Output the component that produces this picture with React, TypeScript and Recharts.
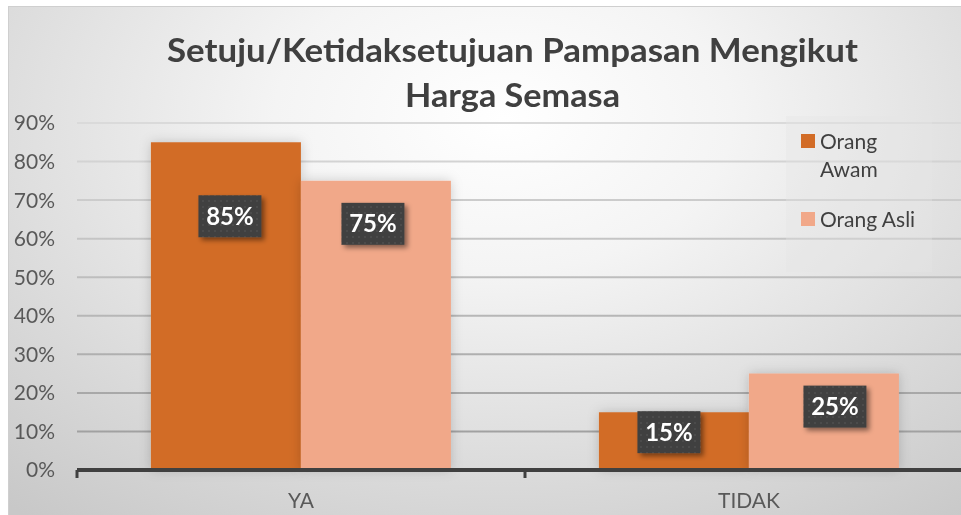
import React from 'react';
import { BarChart, Bar, XAxis, YAxis, CartesianGrid, Legend, LabelList, Rectangle } from 'recharts';

// ---- data ----
const categories = ['YA', 'TIDAK'];
const orangAwam = [0.85, 0.15];
const orangAsli = [0.75, 0.25];
const seriesNames = ['Orang Awam', 'Orang Asli'];
const yTicks = [0, 0.1, 0.2, 0.3, 0.4, 0.5, 0.6, 0.7, 0.8, 0.9];
const titleLines = ['Setuju/Ketidaksetujuan Pampasan Mengikut', 'Harga Semasa'];

const data = categories.map((c, i) => ({ name: c, awam: orangAwam[i], asli: orangAsli[i] }));

// ---- style / layout ----
const FONT = 'Lato, "Open Sans", sans-serif';
const COLORS = ['#D26C27', '#F1A889'];
const CHART_W = 975;
const CHART_H = 509;
const MARGIN = { top: 117, right: 10, bottom: 0, left: 0 };
const Y_AXIS_W = 69;
const X_AXIS_H = 45;
const PLOT_W = CHART_W - MARGIN.left - MARGIN.right - Y_AXIS_W;
const BAND = PLOT_W / categories.length;
// manual data-label placement (pixels, relative to bar centre / bar top)
const AWAM_LABEL_OFFSETS = [{ dx: 4, dy: 74 }, { dx: -5, dy: 20 }];
const ASLI_LABEL_OFFSETS = [{ dx: -3, dy: 43 }, { dx: 11, dy: 33 }];

const pct = (v: number) => `${Math.round(v * 100)}%`;

const makeLabel = (offsets: { dx: number; dy: number }[]) => (props: any) => {
  const { x, y, width, value, index } = props;
  const o = offsets[index] || { dx: 0, dy: 30 };
  const cx = Number(x) + Number(width) / 2 + o.dx;
  const cy = Number(y) + o.dy;
  return (
    <g>
      <rect x={cx - 31.5} y={cy - 21} width={63} height={42} fill="url(#dotPattern)" filter="url(#labelShadow)" />
      <text
        x={cx}
        y={cy}
        dy="0.36em"
        textAnchor="middle"
        fill="#ffffff"
        fontFamily={FONT}
        fontWeight={700}
        fontSize={24}
      >
        {pct(Number(value))}
      </text>
    </g>
  );
};

const XTick = (props: any) => {
  const { x, y, payload } = props;
  const bx = x - BAND / 2;
  return (
    <g>
      <line x1={bx} x2={bx} y1={y} y2={y + 8} stroke="#404040" strokeWidth={3} />
      <text x={x} y={y + 38} textAnchor="middle" fill="#595959" fontFamily={FONT} fontSize={21}>
        {payload.value}
      </text>
    </g>
  );
};

const LegendContent = (props: any) => {
  const payload = [...(props.payload || [])].sort(
    (a: any, b: any) => seriesNames.indexOf(a.value) - seriesNames.indexOf(b.value)
  );
  return (
    <div
      style={{
        position: 'relative',
        width: 146,
        height: 156,
        background: 'rgba(228,228,228,0.35)',
        fontFamily: FONT,
        fontSize: 21,
        color: '#404040',
      }}
    >
      {payload.map((entry: any, i: number) => (
        <div
          key={i}
          style={{ position: 'absolute', left: 15, top: i === 0 ? 11 : 89, display: 'flex', alignItems: 'flex-start' }}
        >
          <div style={{ width: 14, height: 14, marginTop: 7, marginRight: 5, background: entry.color, flex: 'none' }} />
          <div style={{ width: 102, lineHeight: '28px' }}>{entry.value}</div>
        </div>
      ))}
    </div>
  );
};

export default function App() {
  return (
    <div
      style={{
        position: 'fixed',
        left: 8,
        top: 6,
        width: 953,
        height: 509,
        overflow: 'hidden',
        background:
          'radial-gradient(ellipse 80% 100% at 52% 22%, #ffffff 0%, #f4f4f4 30%, #dcdcdc 68%, #c8c8c8 100%)',
        boxShadow: 'inset 1px 1px 0 #cfcfcf',
      }}
    >
      <svg width={953} height={130} style={{ position: 'absolute', left: 0, top: 0 }}>
        <text
          x={504.5}
          y={56}
          textAnchor="middle"
          fill="#404040"
          fontFamily={FONT}
          fontWeight={700}
          fontSize={32}
          textLength={691}
          lengthAdjust="spacingAndGlyphs"
        >
          {titleLines[0]}
        </text>
        <text
          x={504.5}
          y={101}
          textAnchor="middle"
          fill="#404040"
          fontFamily={FONT}
          fontWeight={700}
          fontSize={32}
          textLength={215}
          lengthAdjust="spacingAndGlyphs"
        >
          {titleLines[1]}
        </text>
      </svg>
      <div style={{ position: 'absolute', left: 0, top: 0 }}>
        <BarChart
          width={CHART_W}
          height={CHART_H}
          data={data}
          margin={MARGIN}
          barCategoryGap="16.5%"
          barGap={0}
        >
          <defs>
            <linearGradient id="gridGrad" gradientUnits="userSpaceOnUse" x1="0" y1="117" x2="0" y2="464">
              <stop offset="0%" stopColor="#dadada" />
              <stop offset="100%" stopColor="#9a9a9a" />
            </linearGradient>
            <pattern id="dotPattern" width="6" height="6" patternUnits="userSpaceOnUse">
              <rect width="6" height="6" fill="#404040" />
              <circle cx="3" cy="3" r="0.7" fill="#5e5e5e" />
            </pattern>
            <filter id="labelShadow" x="-30%" y="-30%" width="170%" height="170%">
              <feDropShadow dx="3" dy="3" stdDeviation="2.5" floodColor="#000" floodOpacity="0.45" />
            </filter>
            <filter id="barShadow" x="-20%" y="-20%" width="140%" height="140%">
              <feDropShadow dx="0" dy="0" stdDeviation="6" floodColor="#000" floodOpacity="0.18" />
            </filter>
          </defs>
          <CartesianGrid horizontal vertical={false} stroke="url(#gridGrad)" strokeWidth={2} />
          <YAxis
            width={Y_AXIS_W}
            domain={[0, 0.9]}
            ticks={yTicks}
            tickFormatter={pct}
            axisLine={false}
            tickLine={false}
            tickSize={0}
            tickMargin={22}
            interval={0}
            tick={{ fill: '#595959', fontSize: 21, fontFamily: FONT }}
          />
          <XAxis
            dataKey="name"
            height={X_AXIS_H}
            axisLine={{ stroke: '#404040', strokeWidth: 4 }}
            tickLine={false}
            tickSize={0}
            tickMargin={0}
            interval={0}
            tick={<XTick />}
          />
          <Legend
            layout="vertical"
            align="center"
            verticalAlign="middle"
            content={<LegendContent />}
            wrapperStyle={{ position: 'absolute', left: 778, top: 110, width: 146, height: 156 }}
          />
          <Bar
            dataKey="awam"
            name={seriesNames[0]}
            fill={COLORS[0]}
            isAnimationActive={false}
            shape={(p: any) => <Rectangle {...p} filter="url(#barShadow)" />}
          >
            <LabelList dataKey="awam" content={makeLabel(AWAM_LABEL_OFFSETS)} />
          </Bar>
          <Bar
            dataKey="asli"
            name={seriesNames[1]}
            fill={COLORS[1]}
            isAnimationActive={false}
            shape={(p: any) => <Rectangle {...p} filter="url(#barShadow)" />}
          >
            <LabelList dataKey="asli" content={makeLabel(ASLI_LABEL_OFFSETS)} />
          </Bar>
        </BarChart>
      </div>
    </div>
  );
}
